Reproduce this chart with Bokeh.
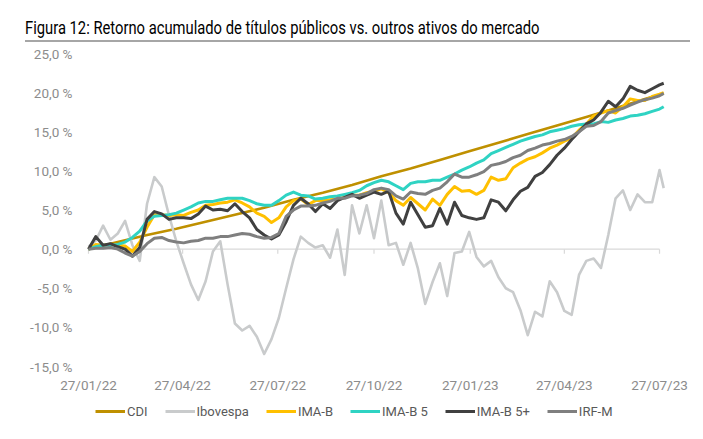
import pandas as pd
from bokeh.plotting import figure
from bokeh.models import (Range1d, FixedTicker, Legend, LegendItem, ColumnDataSource,
                          DatetimeTickFormatter, Div)
from bokeh.layouts import column
from bokeh.embed import file_html
from bokeh.resources import INLINE

title_text = "Figura 12: Retorno acumulado de títulos públicos vs. outros ativos do mercado"

# weekly observation dates (last point is the final day shown)
week_dates = list(pd.date_range("2022-01-27", "2023-07-27", freq="7D")) + [pd.Timestamp("2023-07-31")]
cdi_dates = week_dates[::4] + [week_dates[-1]]

cdi = [0.0, 0.9, 1.8, 2.6, 3.5, 4.4, 5.3, 6.3, 7.2, 8.2,
       9.3, 10.3, 11.4, 12.5, 13.6, 14.7, 15.8, 16.9, 18.0, 19.2, 19.9]

ibovespa = [0.3, 1.1, 3.0, 1.2, 2.0, 3.6, 0.5, -1.5, 5.8, 9.2,
            8.0, 4.3, 1.0, -1.8, -4.5, -6.5, -4.1, -0.3, 1.0, -4.5,
            -9.5, -10.4, -9.8, -11.2, -13.4, -11.5, -8.8, -5.0, -1.3, 1.6,
            0.8, 0.2, 0.5, -1.1, 2.5, -3.3, 5.6, 2.0, 5.6, 1.4,
            6.2, 0.5, 0.8, -2.0, 0.8, -2.5, -7.0, -4.2, -1.8, -6.0,
            -0.5, -0.3, 2.2, -1.0, -2.2, -1.5, -3.6, -5.0, -5.5, -7.8,
            -11.0, -8.0, -8.6, -4.1, -5.5, -7.9, -8.4, -3.3, -1.5, -1.2,
            -2.4, 1.8, 6.5, 7.5, 5.0, 7.0, 6.0, 6.0, 10.1, 7.8]

ima_b = [0.0, 0.6, 0.5, 0.6, 0.5, 0.4, -0.3, 0.9, 2.8, 4.4,
         4.4, 4.3, 4.4, 4.3, 4.7, 5.0, 5.6, 5.7, 5.9, 6.0,
         6.3, 5.9, 5.4, 4.6, 4.2, 3.4, 4.0, 5.4, 6.2, 6.4,
         5.7, 6.2, 6.2, 6.3, 6.4, 6.6, 6.9, 6.9, 7.2, 7.4,
         7.7, 7.2, 6.2, 5.6, 6.6, 5.8, 5.0, 6.4, 5.6, 7.0,
         8.0, 7.4, 7.5, 7.0, 7.5, 9.2, 8.8, 9.0, 10.4, 11.0,
         11.5, 11.8, 12.3, 12.9, 13.3, 13.8, 14.2, 15.2, 16.0, 17.0,
         17.4, 17.7, 17.4, 18.2, 19.2, 19.0, 19.0, 19.5, 19.8, 20.0]

ima_b5 = [0.0, 0.3, 0.5, 0.5, 0.6, 0.9, 1.5, 2.3, 3.6, 4.2,
          4.3, 4.4, 4.6, 5.0, 5.4, 5.9, 6.1, 6.1, 6.3, 6.5,
          6.5, 6.5, 6.2, 5.8, 5.6, 5.6, 6.2, 6.9, 7.3, 6.9,
          6.8, 6.4, 6.5, 6.7, 6.8, 7.0, 7.2, 7.5, 8.1, 8.5,
          8.8, 8.6, 8.1, 7.6, 8.4, 8.6, 8.6, 8.8, 8.8, 9.2,
          9.6, 10.1, 10.5, 11.0, 11.4, 12.2, 12.6, 13.0, 13.4, 13.8,
          14.1, 14.4, 14.6, 15.0, 15.2, 15.4, 15.7, 15.9, 16.0, 16.0,
          16.3, 16.2, 16.5, 16.7, 17.0, 17.1, 17.3, 17.6, 17.9, 18.2]

ima_b5p = [0.0, 1.6, 0.5, 0.7, 0.3, 0.0, -0.9, 0.2, 3.8, 4.8,
           4.5, 3.8, 4.0, 4.0, 3.9, 4.5, 5.5, 5.0, 5.1, 4.9,
           5.8, 4.8, 4.0, 2.5, 1.8, 1.3, 1.8, 3.5, 5.6, 6.5,
           5.8, 4.8, 5.8, 5.2, 6.2, 6.6, 7.0, 6.5, 6.9, 7.3,
           7.0, 7.4, 4.6, 3.2, 6.0, 4.4, 2.8, 3.0, 5.2, 3.2,
           6.0, 4.3, 4.0, 3.8, 4.0, 6.3, 6.0, 4.9, 6.3, 7.4,
           7.9, 9.3, 9.8, 10.8, 12.0, 12.9, 14.0, 15.0, 16.0, 16.5,
           17.5, 18.9, 18.2, 19.2, 20.8, 20.3, 20.0, 20.5, 21.0, 21.2]

irf_m = [0.0, 0.1, 0.1, 0.2, 0.0, -0.5, -0.9, -0.3, 0.7, 1.4,
         1.5, 1.1, 0.9, 0.8, 1.0, 1.1, 1.4, 1.4, 1.6, 1.6,
         1.8, 2.0, 1.9, 1.6, 1.4, 1.5, 2.0, 4.2, 5.0, 5.5,
         5.5, 5.6, 5.9, 6.1, 6.5, 6.5, 6.8, 6.9, 7.1, 7.6,
         7.8, 7.6, 6.8, 6.4, 7.3, 7.1, 7.0, 7.5, 7.8, 8.6,
         9.6, 9.2, 9.2, 9.5, 9.9, 10.7, 10.9, 11.2, 11.7, 12.0,
         12.6, 12.9, 13.3, 13.5, 13.8, 14.0, 14.4, 15.0, 15.7, 15.8,
         16.3, 17.4, 17.7, 18.0, 18.4, 18.8, 19.1, 19.3, 19.6, 19.9]

x_tick_dates = ["2022-01-27", "2022-04-27", "2022-07-27", "2022-10-27",
                "2023-01-27", "2023-04-27", "2023-07-27"]
x_tick_labels = ["27/01/22", "27/04/22", "27/07/22", "27/10/22",
                 "27/01/23", "27/04/23", "27/07/23"]
y_ticks = [-15, -10, -5, 0, 5, 10, 15, 20, 25]
y_tick_labels = ["-15,0 %", "-10,0 %", "-5,0 %", "0,0 %", "5,0 %",
                 "10,0 %", "15,0 %", "20,0 %", "25,0 %"]

series_names = ["CDI", "Ibovespa", "IMA-B", "IMA-B 5", "IMA-B 5+", "IRF-M"]
series_colors = ["#BF9000", "#C9CBCC", "#FFC000", "#2FD3C3", "#404040", "#7F7F7F"]
series_widths = [2.6, 2.6, 3, 3, 3, 3]

FONT = "Roboto"

week_x = pd.to_datetime(week_dates)
cdi_x = pd.to_datetime(cdi_dates)
tick_x = pd.to_datetime(x_tick_dates)
tick_ms = [float(t.value // 10**6) for t in tick_x]

# ---------- title block (text + rule) ----------
title_div = Div(
    text=('<div style="margin-left:25px;width:665px;height:42px;box-sizing:border-box;'
          'border-bottom:2px solid #A6A6A6;padding-top:18px;font-family:Roboto;'
          'font-size:18px;line-height:20px;color:#000000;white-space:nowrap;">'
          '<span style="display:inline-block;transform:scaleX(0.82);transform-origin:0 0;">'
          + title_text + '</span></div>'),
    width=703, height=43, margin=0)

# ---------- main chart ----------
W, H = 703, 352
FL, FR, FT, FB = 80, 670, 5, 328   # frame edges in figure pixels

px_per_day = (659 - 86.5) / 546.0
x_start = tick_x[0] - pd.Timedelta(days=8 / px_per_day)
x_end = tick_x[-1] + pd.Timedelta(days=11 / px_per_day)

p = figure(width=W, height=H, x_axis_type="datetime",
           x_range=Range1d(x_start, x_end), y_range=Range1d(-15.51, 25.64),
           output_backend="svg", toolbar_location=None,
           min_border_left=FL, min_border_right=W - FR, min_border_top=FT,
           min_border_bottom=H - FB, margin=0)
p.outline_line_color = None
p.xgrid.visible = False
p.ygrid.visible = False
p.background_fill_color = "white"

# zero reference line with small tick marks
p.segment(x0=[tick_x[0]], x1=[tick_x[-1]], y0=[0], y1=[0], line_color="#D9D9D9", line_width=1.2)
p.segment(x0=list(tick_x), x1=list(tick_x), y0=[0] * len(tick_x), y1=[-0.6] * len(tick_x),
          line_color="#D9D9D9", line_width=1.2)

data_sets = [(cdi_x, cdi), (week_x, ibovespa), (week_x, ima_b), (week_x, ima_b5),
             (week_x, ima_b5p), (week_x, irf_m)]
for (xs, ys), col, lw in zip(data_sets, series_colors, series_widths):
    src = ColumnDataSource(dict(x=xs, y=ys))
    p.line("x", "y", source=src, line_color=col, line_width=lw, line_join="round")

p.xaxis.ticker = FixedTicker(ticks=tick_ms)
p.xaxis.formatter = DatetimeTickFormatter(days="%d/%m/%y", months="%d/%m/%y")
p.xaxis.major_label_overrides = dict(zip(tick_ms, x_tick_labels))
p.yaxis.ticker = FixedTicker(ticks=y_ticks)
p.yaxis.major_label_overrides = dict(zip(y_ticks, y_tick_labels))
for ax in (p.xaxis[0], p.yaxis[0]):
    ax.axis_line_color = None
    ax.major_tick_line_color = None
    ax.minor_tick_line_color = None
    ax.major_tick_out = 0
    ax.major_tick_in = 0
    ax.major_label_text_font = FONT
    ax.major_label_text_font_size = "13.5px"
    ax.major_label_text_color = "#8C8C8C"
p.xaxis.major_label_standoff = 6
p.yaxis.major_label_standoff = 8

# ---------- legend strip (placeholder renderers lie outside the visible range) ----------
lg = figure(width=703, height=32, x_range=Range1d(0, 1), y_range=Range1d(0, 1),
            output_backend="svg", toolbar_location=None,
            x_axis_location=None, y_axis_location=None,
            min_border_left=0, min_border_right=0, min_border_top=0, min_border_bottom=0,
            margin=0)
lg.outline_line_color = None
lg.grid.visible = False
items = []
for name, col in zip(series_names, series_colors):
    r = lg.line(x=[-2, -1], y=[-2, -1], line_color=col, line_width=3)
    items.append(LegendItem(label=name, renderers=[r]))
legend = Legend(items=items, orientation="horizontal", location="left",
                glyph_width=30, glyph_height=16, label_height=16, label_standoff=2,
                spacing=17, padding=4, margin=15, border_line_color=None,
                background_fill_alpha=0,
                label_text_font=FONT, label_text_font_size="13px", label_text_color="#595959")
lg.add_layout(legend)

layout = column(title_div, p, lg, spacing=0)
open("out.html", "w").write(file_html(layout, INLINE))
